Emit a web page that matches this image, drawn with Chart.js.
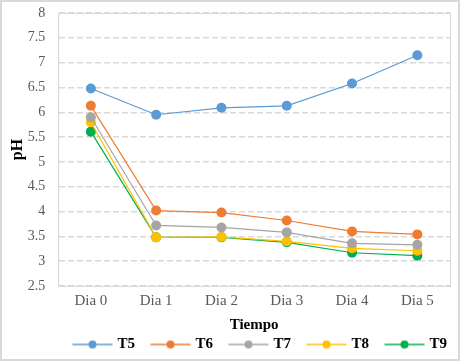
<!DOCTYPE html>
<html lang="es">
<head>
    <meta charset="UTF-8">
    <title>pH vs Tiempo</title>
    <script src="https://cdn.jsdelivr.net/npm/chart.js"></script>
    <style>
        html, body { margin: 0; padding: 0; background: #fff; }
        #wrap {
            width: 460px; height: 361px; box-sizing: border-box;
            border: 2px solid #d9d9d9; background: #fff;
        }
    </style>
</head>
<body>
    <div id="wrap"><canvas id="chart" width="456" height="357"></canvas></div>

    <script>
        const days = ["Dia 0", "Dia 1", "Dia 2", "Dia 3", "Dia 4", "Dia 5"];
        const t5 = [6.48, 5.95, 6.09, 6.13, 6.58, 7.15];
        const t6 = [6.13, 4.02, 3.98, 3.82, 3.60, 3.54];
        const t7 = [5.90, 3.72, 3.68, 3.58, 3.36, 3.33];
        const t8 = [5.80, 3.48, 3.49, 3.40, 3.26, 3.21];
        const t9 = [5.61, 3.48, 3.48, 3.38, 3.17, 3.11];
        const seriesNames = ["T5", "T6", "T7", "T8", "T9"];
        const colors = ["#5b9bd5", "#ed7d31", "#a5a5a5", "#ffc000", "#00b050"];

        const iconSlot = 50;
        const iconLead = 12.5;

        // legend marker: short line with a dot in the middle, after a blank lead-in
        function legendIcon(color) {
            const c = document.createElement("canvas");
            c.width = 100; c.height = 12;
            const g = c.getContext("2d");
            const x0 = 50 - iconSlot / 2 + iconLead;
            g.strokeStyle = color;
            g.lineWidth = 1.3;
            g.beginPath();
            g.moveTo(x0, 6); g.lineTo(x0 + 40, 6);
            g.stroke();
            g.fillStyle = color;
            g.beginPath();
            g.arc(x0 + 20, 6, 4, 0, 2 * Math.PI);
            g.fill();
            return c;
        }

        const plotBorder = {
            id: "plotBorder",
            beforeDatasetsDraw(chart) {
                const { ctx, chartArea: a } = chart;
                ctx.save();
                ctx.strokeStyle = "#d9d9d9";
                ctx.lineWidth = 1;
                ctx.strokeRect(a.left + 0.5, a.top + 0.5, a.right - a.left, a.bottom - a.top);
                ctx.restore();
            }
        };

        const ctx = document.getElementById("chart").getContext("2d");
        new Chart(ctx, {
            type: "line",
            data: {
                labels: days,
                datasets: [t5, t6, t7, t8, t9].map((d, i) => ({
                    label: seriesNames[i],
                    data: d,
                    borderColor: colors[i],
                    backgroundColor: colors[i],
                    borderWidth: 1.2,
                    pointRadius: 5,
                    pointHoverRadius: 5,
                    pointBorderWidth: 0,
                    tension: 0,
                })),
            },
            options: {
                responsive: false,
                animation: false,
                layout: { padding: { top: 0, right: 8, left: 4, bottom: -3 } },
                scales: {
                    x: {
                        offset: true,
                        grid: { display: false, drawTicks: false, tickLength: 0 },
                        border: { color: "#d9d9d9" },
                        ticks: { color: "#595959", font: { family: "Liberation Serif", size: 15 }, padding: 6 },
                        title: {
                            display: true, text: "Tiempo", color: "#000",
                            font: { family: "Liberation Serif", size: 15, weight: "bold" }, padding: { top: 0, bottom: 0 }
                        },
                    },
                    y: {
                        min: 2.5, max: 8,
                        afterFit(scale) { scale.paddingTop = 11; },
                        ticks: {
                            stepSize: 0.5, color: "#595959", padding: 13,
                            font: { family: "Liberation Serif", size: 14 },
                            callback: (v) => String(v),
                        },
                        grid: { color: "#d9d9d9", lineWidth: 1.5, drawTicks: false, tickLength: 0 },
                        border: { color: "#d9d9d9", dash: [6, 3] },
                        title: {
                            display: true, text: "pH", color: "#000",
                            font: { family: "Liberation Serif", size: 16, weight: "bold" },
                            padding: { top: 2, bottom: -12.5 }
                        },
                    },
                },
                plugins: {
                    tooltip: { enabled: false },
                    legend: {
                        position: "bottom",
                        align: "end",
                        labels: {
                            usePointStyle: true,
                            pointStyleWidth: iconSlot,
                            boxHeight: 12,
                            padding: 3,
                            color: "#404040",
                            font: { family: "Liberation Serif", size: 15, weight: "bold" },
                            generateLabels(chart) {
                                return chart.data.datasets.map((ds, i) => ({
                                    text: ds.label,
                                    pointStyle: legendIcon(colors[i]),
                                    fillStyle: colors[i],
                                    strokeStyle: colors[i],
                                    lineWidth: 0,
                                    datasetIndex: i,
                                    hidden: false,
                                }));
                            },
                        },
                    },
                },
            },
            plugins: [plotBorder],
        });
    </script>
</body>
</html>
